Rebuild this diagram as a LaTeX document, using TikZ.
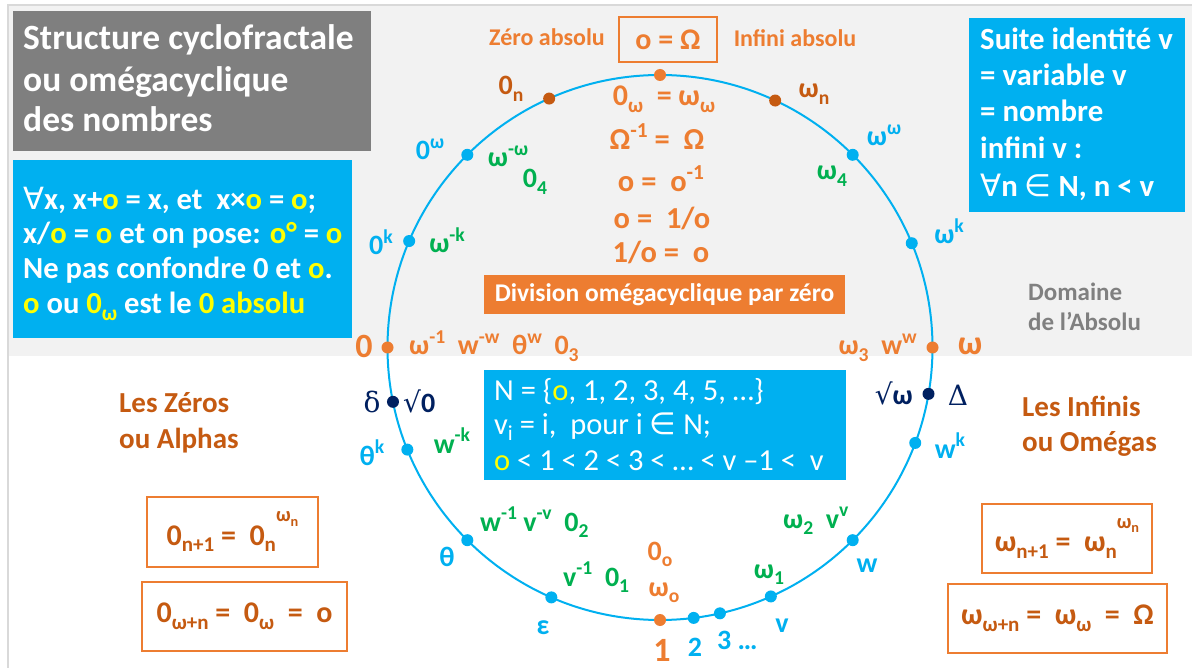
\documentclass[tikz,border=0pt]{standalone}
\usepackage{fontspec}
\usepackage{graphicx}
\setmainfont{Carlito}
\newfontfamily\symsans{DejaVu Sans}
\newfontfamily\symserif{DejaVu Serif}
\definecolor{corange}{HTML}{ED7D31}
\definecolor{cdorange}{HTML}{C55A11}
\definecolor{cblue}{HTML}{00B0F0}
\definecolor{cgreen}{HTML}{00B050}
\definecolor{cnavy}{HTML}{002060}
\definecolor{cyellow}{HTML}{FFFF00}
\definecolor{bglight}{HTML}{F2F2F2}
\definecolor{framegray}{HTML}{D9D9D9}
\definecolor{titlegray}{HTML}{7F7F7F}
\definecolor{domgray}{HTML}{808080}
\newcommand\mysup[1]{\raisebox{0.42em}{\scalebox{0.7}{#1}}}
\newcommand\mysub[1]{\raisebox{-0.22em}{\scalebox{0.7}{#1}}}
\newcommand\myhigh[1]{\raisebox{0.78em}{\scalebox{0.68}{#1}}}
\newcommand\fs[1]{\fontsize{#1}{#1}\selectfont}
\newcommand\Y[1]{\textcolor{cyellow}{#1}}
\begin{document}
\begin{tikzpicture}[x=1pt,y=-1pt,
  lab/.style={inner sep=0pt, anchor=base, font=\bfseries\fs{28}},
  labw/.style={lab, anchor=base west},
  labe/.style={lab, anchor=base east},
  dot/.style={circle, fill=#1, inner sep=0pt, minimum size=12pt},
  obox/.style={draw=corange, line width=1.3pt, inner sep=0pt, text=cdorange, font=\bfseries\fs{30}},
  bluebox/.style={fill=cblue, inner sep=0pt},
  whitetxt/.style={labw, text=white}
]
\useasboundingbox (0,0) rectangle (1192,668);
\fill[white] (0,0) rectangle (1192,668);
\fill[bglight] (8,5) rectangle (1192,356);
\draw[framegray, line width=1.2pt] (8,668) -- (8,5) -- (1192,5);

% circle and dots
\coordinate (C) at (660,347.5);
\draw[cblue, line width=2pt] (C) circle[radius=272.5pt];
\foreach \n/\a/\c in {top/90/corange, zn/114/cdorange, wn/65/cdorange,
  zw/135/cblue, ww/45/cblue, zk/157/cblue, wk/22.5/cblue,
  zero/180/corange, om/0/corange, sz/191.5/cnavy, sw/-9.8/cnavy,
  tk/202/cblue, wkb/-20.5/cblue, th/225/cblue, w/-45/cblue,
  eps/246.5/cblue, one/270/corange, two/277.1/cblue, three/282.7/cblue, v/294/cblue}
  \path (C) ++(\a:272.5pt) node[dot=\c] (d\n) {};

% title box
\node[fill=titlegray, minimum width=358pt, minimum height=140pt, inner sep=0pt] (title) at (192,81) {};
\node[whitetxt, font=\bfseries\fs{35.5}] (tl1) at (23,50) {Structure cyclofractale};
\node[whitetxt, font=\bfseries\fs{35.5}] (tl2) at (23,92) {ou omégacyclique};
\node[whitetxt, font=\bfseries\fs{35.5}] (tl3) at (23,132) {des nombres};

% left blue box
\node[bluebox, minimum width=339pt, minimum height=178pt] (lbox) at (182.5,249) {};
\node[whitetxt, font=\bfseries\fs{30.6}] (lb1) at (23,210) {{\symsans\mdseries ∀}x, x+\Y{o} = x, et\ \ x×\Y{o} = \Y{o};};
\node[whitetxt, font=\bfseries\fs{30.6}] (lb2) at (23,244) {x/\Y{o} = \Y{o} et on pose: \Y{o°}\ = \Y{o}};
\node[whitetxt, font=\bfseries\fs{30.6}] (lb3) at (23,279) {Ne pas confondre 0 et \Y{o}.};
\node[whitetxt, font=\bfseries\fs{30.6}] (lb4) at (23,314) {\Y{o} ou \Y{0\mysub{ω}} est le \Y{0 absolu}};

% right blue box
\node[bluebox, minimum width=216pt, minimum height=194pt] (rbox) at (1077,115) {};
\node[whitetxt, font=\bfseries\fs{30.8}] (rb1) at (980,50) {Suite identité v};
\node[whitetxt, font=\bfseries\fs{30.8}] (rb2) at (980,86) {= variable v};
\node[whitetxt, font=\bfseries\fs{30.8}] (rb3) at (980,122) {= nombre};
\node[whitetxt, font=\bfseries\fs{30.8}] (rb4) at (980,159) {infini v :};
\node[whitetxt, font=\bfseries\fs{30.8}] (rb5) at (980,197) {{\symsans\mdseries ∀}n {\symsans\mdseries ∈} N, n < v};

% top labels
\node[lab, text=corange, font=\bfseries\fs{24}] (zabs) at (547,46) {Zéro absolu};
\node[obox, minimum width=98pt, minimum height=45pt, font=\bfseries\fs{30}, text=corange] (oom) at (668,39.5) {o = Ω};
\node[lab, text=corange, font=\bfseries\fs{24}] (iabs) at (795,47) {Infini absolu};

% central equations
\node[lab, text=corange, font=\bfseries\fs{30}] (e1) at (664,106) {0\mysub{ω}\ \ = ω\mysub{ω}};
\node[lab, text=corange, font=\bfseries\fs{30.5}] (e2) at (657,150) {Ω\mysup{-1} =\ \ Ω};
\node[lab, text=corange, font=\bfseries\fs{30.5}] (e3) at (661,192) {o =\ \ o\mysup{-1}};
\node[lab, text=corange, font=\bfseries\fs{30.5}] (e4) at (662,229) {o =\ \ 1/o};
\node[lab, text=corange, font=\bfseries\fs{30.5}] (e5) at (661,263) {1/o =\ \ o};
\node[fill=corange, minimum width=361pt, minimum height=39pt, inner sep=0pt, text=white, font=\bfseries\fs{25.5}] (div) at (664.5,294.5) {Division omégacyclique par zéro};

% circle labels, upper half
\node[lab, text=cdorange] (l0n) at (511,95) {0\mysub{n}};
\node[lab, text=cdorange] (lwn) at (814,98) {ω\mysub{n}};
\node[lab, text=cblue] (l0w) at (430,160) {0\mysup{ω}};
\node[lab, text=cgreen] (lwmw) at (508,167) {ω\mysup{-ω}};
\node[lab, text=cgreen] (l04) at (535,188) {0\mysub{4}};
\node[lab, text=cblue] (lww) at (884,146) {ω\mysup{ω}};
\node[lab, text=cgreen] (lw4) at (832,180) {ω\mysub{4}};
\node[lab, text=cblue] (l0k) at (381,255) {0\mysup{k}};
\node[lab, text=cgreen] (lwmk) at (447,253) {ω\mysup{-k}};
\node[lab, text=cblue] (lwk) at (949,244) {ω\mysup{k}};
\node[lab, text=corange, font=\bfseries\fs{34}] (lzero) at (364,358) {0};
\node[labw, text=corange] (lrow) at (409,355) {ω\mysup{-1}\ \ w\mysup{-w}\ \ θ\mysup{w}\ \ 0\mysub{3}};
\node[labe, text=corange] (rrow) at (917,355) {ω\mysub{3}\ \ w\mysup{w}};
\node[lab, text=corange, font=\bfseries\fs{34}] (lom) at (970,355) {ω};

% domain labels
\node[labw, text=domgray, font=\bfseries\fs{25}] (dom1) at (1028,301) {Domaine};
\node[labw, text=domgray, font=\bfseries\fs{25}] (dom2) at (1028,331) {de l’Absolu};

% lower half labels
\node[lab, text=cnavy, font=\symserif\fs{28}] (ldelta) at (372,413) {δ};
\node[labw, text=cnavy] (lsz) at (403,413) {{\symserif\mdseries √}0};
\node[labe, text=cnavy] (lsw) at (913,404) {{\symserif\mdseries √}ω};
\node[lab, text=cnavy, font=\symserif\fs{28}] (lDelta) at (958,406) {Δ};
\node[lab, text=cblue] (ltk) at (372,465) {θ\mysup{k}};
\node[lab, text=cgreen] (lwmk2) at (452,453) {w\mysup{-k}};
\node[lab, text=cblue] (lwk2) at (950,458) {w\mysup{k}};

\node[labw, text=cdorange, font=\bfseries\fs{29}] (lz1) at (119,412) {Les Zéros};
\node[labw, text=cdorange, font=\bfseries\fs{29}] (lz2) at (119,448) {ou Alphas};
\node[labw, text=cdorange, font=\bfseries\fs{29}] (li1) at (1022,416) {Les Infinis};
\node[labw, text=cdorange, font=\bfseries\fs{29}] (li2) at (1022,451) {ou Omégas};

% N box
\node[bluebox, minimum width=362pt, minimum height=110pt] (nbox) at (665,425) {};
\node[whitetxt, font=\fs{30.5}] (nb1) at (494,400) {N = \{\Y{o}, 1, 2, 3, 4, 5, …\}};
\node[whitetxt, font=\fs{30.5}] (nb2) at (494,434) {v\mysub{i} = i,\ \ pour i {\symsans ∈} N;};
\node[whitetxt, font=\fs{30.5}] (nb3) at (494,470) {\Y{o} < 1 < 2 < 3 < … < v –1 <\ \ v};

% bottom arc labels
\node[labw, text=cgreen] (lw1) at (480,531) {w\mysup{-1}\ v\mysup{-v}\ \ 0\mysub{2}};
\node[lab, text=cblue] (lth) at (447,566) {θ};
\node[labw, text=cgreen] (lv1) at (563,586) {v\mysup{-1}\ \ 0\mysub{1}};
\node[lab, text=corange] (l0o) at (660,560) {0\mysub{o}};
\node[lab, text=corange] (lwo) at (664,596) {ω\mysub{o}};
\node[lab, text=cblue] (leps) at (543,634) {ε};
\node[lab, text=corange, font=\bfseries\fs{34}] (lone) at (662,661) {1};
\node[lab, text=cblue] (ltwo) at (695,656) {2};
\node[labw, text=cblue] (lthree) at (717,649) {3 …};
\node[lab, text=cblue] (lv) at (782,632) {v};
\node[lab, text=cgreen] (lw1b) at (769,578) {ω\mysub{1}};
\node[labw, text=cgreen] (lw2) at (783,528) {ω\mysub{2}\ \ v\mysup{v}};
\node[lab, text=cblue] (lw) at (867,572) {w};

% formula boxes
\node[obox, minimum width=171pt, minimum height=70pt] (fb1) at (232.5,532) {0\mysub{n+1} =\ \ 0\mysub{n}\myhigh{ω\mysub{n}}};
\node[obox, minimum width=205pt, minimum height=69pt] (fb2) at (244.5,616.5) {0\mysub{ω+n} =\ \ 0\mysub{ω}\ \ =\ \ o};
\node[obox, minimum width=170pt, minimum height=69pt] (fb3) at (1067,538.5) {ω\mysub{n+1} =\ \ ω\mysub{n}\myhigh{ω\mysub{n}}};
\node[obox, minimum width=219pt, minimum height=69pt] (fb4) at (1057.5,618.5) {ω\mysub{ω+n} =\ \ ω\mysub{ω}\ \ =\ \ Ω};
\end{tikzpicture}
\end{document}
